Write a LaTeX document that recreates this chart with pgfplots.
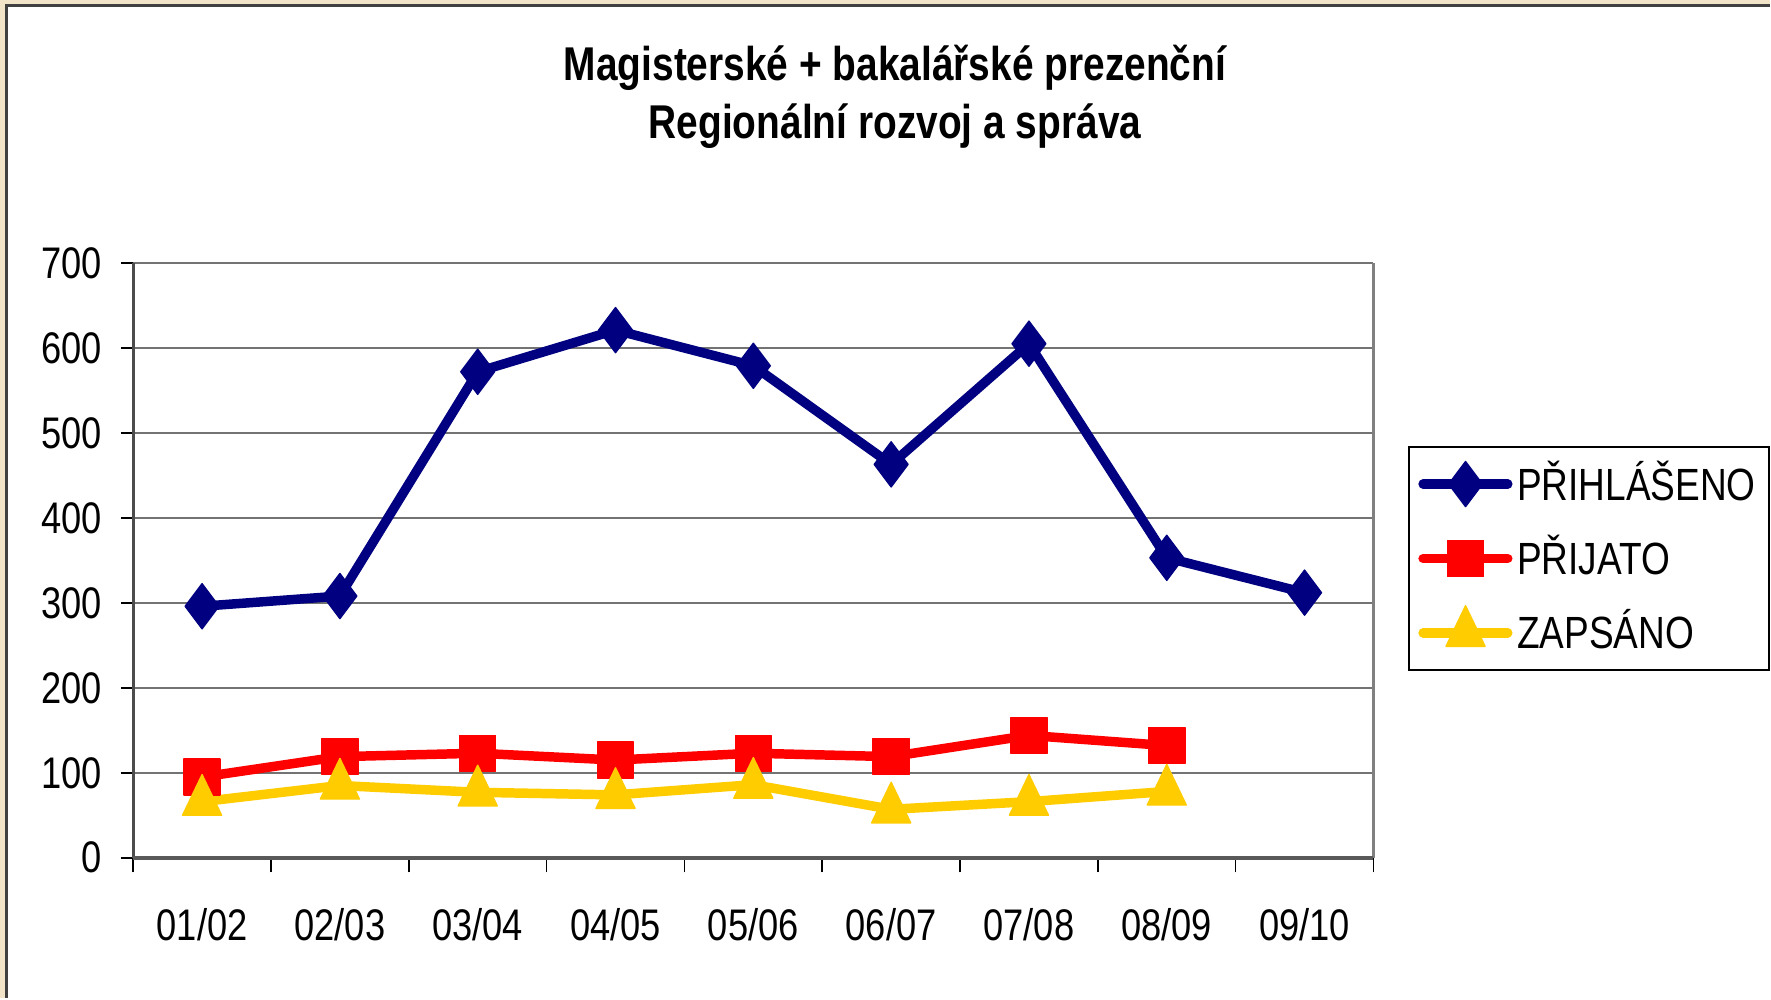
\documentclass[border=0pt]{standalone}
\usepackage{fontspec}
\setmainfont[FakeStretch=0.82]{Liberation Sans}
\usepackage{pgfplots}
\pgfplotsset{compat=1.18}
\definecolor{bgtan}{HTML}{F2E4C9}
\definecolor{navy}{HTML}{000080}
\definecolor{xred}{HTML}{FF0000}
\definecolor{xyel}{HTML}{FFCC00}

\begin{document}
\begin{tikzpicture}
% background and frame (units: 0.25pt, y downward)
\begin{scope}[x=0.25pt,y=-0.25pt]
\fill[bgtan] (0,0) rectangle (1568,884);
\fill[white] (6,5) rectangle (1568,884);
\draw[black!75, line width=0.6pt] (6,884) -- (6,5) -- (1568,5);
\node[font=\bfseries\fontsize{10.5}{13}\selectfont, anchor=base, inner sep=0pt]
 at (793,71) {Magisterské + bakalářské prezenční};
\node[font=\bfseries\fontsize{10.5}{13}\selectfont, anchor=base, inner sep=0pt]
 at (793,123) {Regionální rozvoj a správa};
\end{scope}

\begin{axis}[
 at={(29.5pt,-190pt)}, anchor=south west,
 width=274.75pt, height=131.75pt, scale only axis,
 xmin=0.5, xmax=9.5, ymin=0, ymax=700,
 xtick={1,...,9},
 xticklabels={01/02,02/03,03/04,04/05,05/06,06/07,07/08,08/09,09/10},
 major x tick style={draw=none},
 minor xtick={0.5,1.5,...,9.5},
 ytick={0,100,...,700},
 tick align=outside, tick pos=left,
 major tick length=2.75pt, minor tick length=3.25pt,
 tick style={black, line width=0.35pt},
 axis line style={draw=none},
 ymajorgrids, grid style={black!55, line width=0.35pt},
 /pgf/number format/assume math mode=true,
 tick label style={font=\fontsize{9.8}{11}\selectfont, inner sep=0pt},
 xticklabel style={anchor=north, yshift=-8.3pt},
 yticklabel style={anchor=east, xshift=-4pt},
 legend style={at={(1.028,0.6926)}, anchor=north west,
  draw=black, line width=0.5pt, fill=white,
  font=\fontsize{10}{12}\selectfont,
  inner xsep=2pt, inner ysep=2.1pt, row sep=4.25pt,
  nodes={inner sep=1pt}},
 legend cell align=left,
 legend image code/.code={%
  \draw[mark repeat=2, mark phase=2, line cap=round]
  plot coordinates {(0pt,0pt) (9.4pt,0pt) (18.75pt,0pt)};},
 clip=false,
]
% plot area edges
\draw[black!55, line width=0.35pt] (rel axis cs:0,1) -- (rel axis cs:1,1);
\draw[black!50, line width=0.75pt] (rel axis cs:1,0) -- (rel axis cs:1,1);
\draw[black!70, line width=0.6pt] (rel axis cs:0,0) -- (rel axis cs:0,1);
\draw[black!65, line width=0.8pt] (rel axis cs:0,0) -- (rel axis cs:1,0);

\addplot[navy, line width=2.1pt, line join=round, mark=diamond*, mark size=5pt,
 mark options={solid, line width=0.3pt}]
 coordinates {(1,296) (2,308) (3,572) (4,621) (5,579) (6,463) (7,605) (8,353) (9,312)};
\addlegendentry{PŘIHLÁŠENO}

\addplot[xred, line width=2.1pt, line join=round, mark=square*, mark size=4pt,
 mark options={solid, line width=0.3pt}]
 coordinates {(1,95) (2,119) (3,123) (4,115) (5,123) (6,119) (7,144) (8,132)};
\addlegendentry{PŘIJATO}

\addplot[xyel, line width=2.1pt, line join=round, mark=triangle*, mark size=5pt,
 mark options={solid, line width=0.3pt, yscale=1.2}]
 coordinates {(1,66) (2,85) (3,77) (4,74) (5,86) (6,57) (7,66) (8,78)};
\addlegendentry{ZAPSÁNO}
\end{axis}
\end{tikzpicture}
\end{document}
